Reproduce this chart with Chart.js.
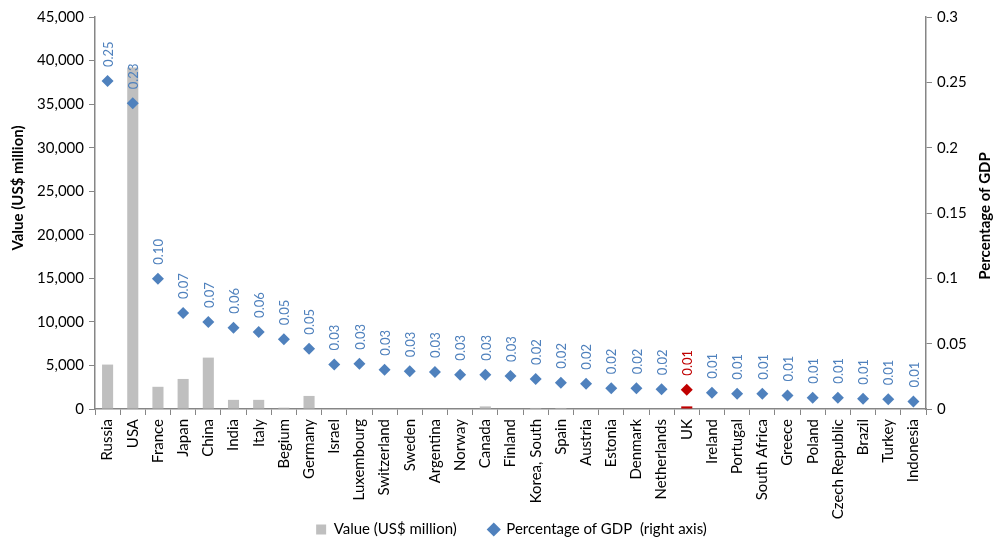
<!DOCTYPE html>
<html>
<head>
<meta charset="utf-8">
<script src="https://cdn.jsdelivr.net/npm/chart.js@4/dist/chart.umd.min.js"></script>
<style>
  html, body { margin: 0; padding: 0; background: #fff; }
  #wrap { width: 999px; height: 541px; position: relative; }
</style>
</head>
<body>
<div id="wrap"><canvas id="c" width="999" height="541"></canvas></div>
<script>
// Countries, in descending order of spending as a share of GDP
const countries = ['Russia', 'USA', 'France', 'Japan', 'China', 'India', 'Italy', 'Begium', 'Germany',
  'Israel', 'Luxembourg', 'Switzerland', 'Sweden', 'Argentina', 'Norway', 'Canada', 'Finland',
  'Korea, South', 'Spain', 'Austria', 'Estonia', 'Denmark', 'Netherlands', 'UK', 'Ireland',
  'Portugal', 'South Africa', 'Greece', 'Poland', 'Czech Republic', 'Brazil', 'Turkey', 'Indonesia'];

// Value, US$ million (left axis)
const valueUSDm = [5100, 39200, 2550, 3450, 5900, 1050, 1050, 150, 1500,
  0, 0, 0, 0, 0, 0, 300, 0,
  120, 120, 0, 0, 0, 0, 300, 0,
  0, 0, 0, 0, 0, 0, 0, 0];

// Percentage of GDP (right axis)
const pctGDP = [0.251, 0.234, 0.0997, 0.0735, 0.0666, 0.0622, 0.059, 0.0533, 0.0462,
  0.0341, 0.0347, 0.0301, 0.0288, 0.0283, 0.0263, 0.0263, 0.0253,
  0.023, 0.0201, 0.0194, 0.0158, 0.0158, 0.0152, 0.0148, 0.0125,
  0.0117, 0.0117, 0.0104, 0.0087, 0.0087, 0.0079, 0.0074, 0.0058];

// Axis ranges
const leftMax = 45000, leftStep = 5000;
const rightMax = 0.3, rightStep = 0.05;

const highlighted = 'UK';

const BLUE = '#4F81BD', RED = '#C00000', GREY = '#BFBFBF', AXIS = '#868686';
const FONT = 'Lato, "Open Sans", sans-serif';

const barColors = countries.map(c => c === highlighted ? RED : GREY);
const pointColors = countries.map(c => c === highlighted ? RED : BLUE);

// Rotated value labels above each GDP marker
const pointLabels = {
  id: 'pointLabels',
  afterDatasetsDraw(chart) {
    const meta = chart.getDatasetMeta(1);
    const ctx = chart.ctx;
    ctx.save();
    ctx.font = '13px ' + FONT;
    ctx.textAlign = 'left';
    ctx.textBaseline = 'middle';
    meta.data.forEach((pt, i) => {
      ctx.save();
      ctx.translate(pt.x + 1, pt.y - 14);
      ctx.rotate(-Math.PI / 2);
      ctx.fillStyle = countries[i] === highlighted ? RED : BLUE;
      ctx.fillText(pctGDP[i].toFixed(2), 0, 0);
      ctx.restore();
    });
    ctx.restore();
  }
};

// Axis titles, both reading bottom to top
const axisTitles = {
  id: 'axisTitles',
  afterDraw(chart) {
    const ctx = chart.ctx;
    ctx.save();
    ctx.font = 'bold 15px ' + FONT;
    ctx.fillStyle = '#000';
    ctx.textAlign = 'center';
    ctx.textBaseline = 'middle';
    [[18, 188, 'Value (US$ million)'], [985, 216, 'Percentage of GDP']].forEach(([x, y, t]) => {
      ctx.save();
      ctx.translate(x, y);
      ctx.rotate(-Math.PI / 2);
      ctx.fillText(t, 0, 0);
      ctx.restore();
    });
    ctx.restore();
  }
};

// The legend sits in the strip beside the long rotated country names
const legendLift = {
  id: 'legendLift',
  afterLayout(chart) {
    const lg = chart.legend;
    lg.top = 490;
    lg.bottom = 541;
    lg.height = 51;
  }
};

new Chart(document.getElementById('c'), {
  type: 'bar',
  data: {
    labels: countries,
    datasets: [
      {
        label: 'Value (US$ million)',
        data: valueUSDm,
        backgroundColor: barColors,
        borderWidth: 0,
        barPercentage: 0.44,
        categoryPercentage: 1,
        yAxisID: 'y',
        order: 2
      },
      {
        type: 'line',
        label: 'Percentage of GDP  (right axis)',
        data: pctGDP,
        showLine: false,
        pointStyle: 'rectRot',
        pointRadius: 6,
        pointBackgroundColor: pointColors,
        pointBorderColor: pointColors,
        pointBorderWidth: 0,
        yAxisID: 'y1',
        order: 1
      }
    ]
  },
  options: {
    responsive: false,
    animation: false,
    layout: { padding: { top: 17, left: 24, right: 0, bottom: 0 } },
    scales: {
      x: {
        offset: true,
        grid: { display: true, drawOnChartArea: false, offset: true, tickLength: 6, color: AXIS },
        border: { color: AXIS, width: 1.5 },
        ticks: {
          autoSkip: false, minRotation: 90, maxRotation: 90, color: '#000',
          font: { family: FONT, size: 15 }, padding: 4
        },
        afterFit(s) { s.height = 114; }
      },
      y: {
        position: 'left',
        min: 0, max: leftMax,
        grid: { drawOnChartArea: false, tickLength: 6, color: AXIS },
        border: { color: AXIS, width: 1.5 },
        ticks: { stepSize: leftStep, color: '#000', font: { family: FONT, size: 15 }, padding: 5 },
        afterFit(s) { s.width = 71; }
      },
      y1: {
        position: 'right',
        min: 0, max: rightMax,
        grid: { drawOnChartArea: false, tickLength: 6, color: AXIS },
        border: { color: AXIS, width: 1.5 },
        ticks: {
          stepSize: rightStep, color: '#000', font: { family: FONT, size: 15 }, padding: 5,
          callback: v => String(+v.toFixed(2))
        },
        afterFit(s) { s.width = 73; }
      }
    },
    plugins: {
      tooltip: { enabled: false },
      legend: {
        position: 'bottom',
        maxHeight: 18,
        labels: {
          usePointStyle: true,
          boxWidth: 10,
          boxHeight: 10,
          padding: 32,
          color: '#000',
          font: { family: FONT, size: 15 },
          generateLabels(chart) {
            const items = Chart.defaults.plugins.legend.labels.generateLabels(chart)
              .sort((a, b) => a.datasetIndex - b.datasetIndex);
            const styles = [['rect', GREY], ['rectRot', BLUE]];
            items.forEach(it => {
              const [ps, col] = styles[it.datasetIndex];
              it.pointStyle = ps;
              it.fillStyle = col;
              it.strokeStyle = col;
              it.lineWidth = 0;
            });
            return items;
          }
        }
      }
    }
  },
  plugins: [pointLabels, axisTitles, legendLift]
});
</script>
</body>
</html>
